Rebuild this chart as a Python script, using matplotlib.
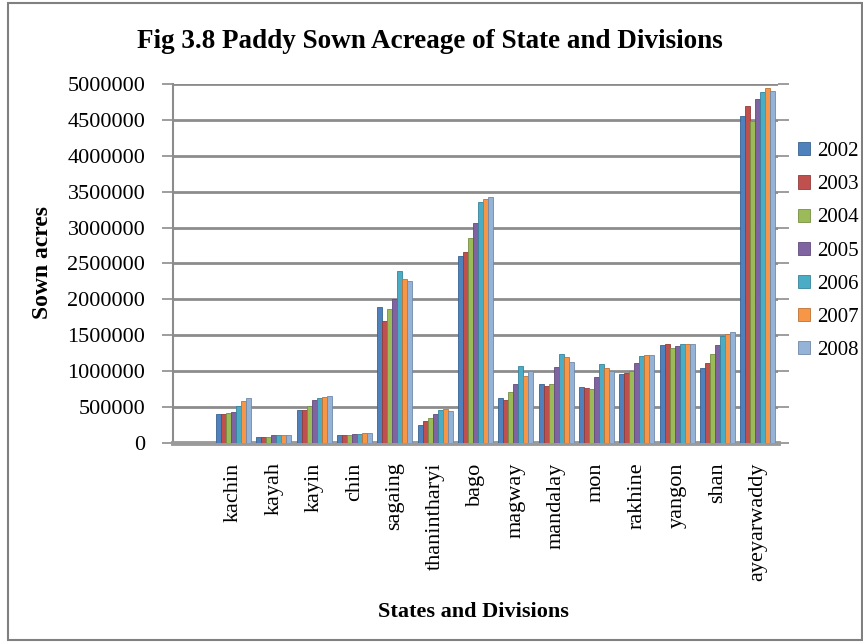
"""Fig 3.8 paddy sown acreage of states and divisions, 2002-2008."""

import matplotlib

matplotlib.use("Agg")
import matplotlib.pyplot as plt
import numpy as np
from matplotlib.patches import Rectangle


CATEGORIES = [
    "kachin", "kayah", "kayin", "chin", "sagaing", "thanintharyi", "bago",
    "magway", "mandalay", "mon", "rakhine", "yangon", "shan", "ayeyarwaddy",
]
YEARS = ["2002", "2003", "2004", "2005", "2006", "2007", "2008"]

# one list per state/division, values for 2002..2008 (acres)
kachin = [410000, 410000, 415000, 430000, 520000, 590000, 620000]
kayah = [80000, 80000, 85000, 105000, 110000, 110000, 110000]
kayin = [455000, 460000, 515000, 595000, 625000, 635000, 655000]
chin = [110000, 115000, 115000, 120000, 125000, 135000, 140000]
sagaing = [1890000, 1700000, 1865000, 2005000, 2395000, 2285000, 2255000]
thanintharyi = [255000, 300000, 355000, 410000, 455000, 470000, 450000]
bago = [2610000, 2660000, 2850000, 3070000, 3350000, 3395000, 3430000]
magway = [625000, 605000, 710000, 820000, 1075000, 935000, 1005000]
mandalay = [820000, 790000, 815000, 1065000, 1235000, 1200000, 1135000]
mon = [775000, 765000, 755000, 925000, 1100000, 1050000, 1005000]
rakhine = [960000, 975000, 1005000, 1110000, 1210000, 1225000, 1225000]
yangon = [1360000, 1385000, 1325000, 1350000, 1375000, 1385000, 1375000]
shan = [1040000, 1110000, 1235000, 1370000, 1490000, 1520000, 1545000]
ayeyarwaddy = [4560000, 4700000, 4485000, 4790000, 4885000, 4940000, 4900000]

ROWS = [kachin, kayah, kayin, chin, sagaing, thanintharyi, bago,
        magway, mandalay, mon, rakhine, yangon, shan, ayeyarwaddy]

COLORS = ["#4F81BD", "#C0504D", "#9BBB59", "#8064A2", "#4BACC6", "#F79646", "#95B3D7"]
EDGES = ["#3A6390", "#933B39", "#768F44", "#614C7C", "#39839A", "#BD7235", "#7189A8"]

plt.rcParams.update({"font.family": ["Liberation Serif", "DejaVu Serif"]})

fig = plt.figure(figsize=(8.63, 6.44), dpi=100)
ax = fig.add_axes([0.2005, 0.3121, 0.7010, 0.5575])

values = np.array(ROWS)  # shape (14 categories, 7 years)
x = np.arange(1, len(CATEGORIES) + 1)
n = len(YEARS)
bar_w = 0.87 / n
for j, year in enumerate(YEARS):
    offs = (j - (n - 1) / 2) * bar_w
    ax.bar(x + offs, values[:, j], width=bar_w, color=COLORS[j], edgecolor=EDGES[j],
           linewidth=0.6, label=year, zorder=3)

ax.set_xlim(-0.5, len(CATEGORIES) + 0.5)
ax.set_ylim(0, 5000000)
ax.set_yticks(np.arange(0, 5000001, 500000))
ax.set_yticklabels([str(v) for v in range(0, 5000001, 500000)], fontsize=16)
ax.yaxis.grid(True, color="#8C8C8C", linewidth=2.0, zorder=0)
ax.tick_params(axis="y", which="both", direction="out", length=8, width=1.2, color="#8C8C8C",
               right=True, pad=12)
ax.set_xticks(x)
ax.set_xticklabels(CATEGORIES, rotation=90, fontsize=16, va="top")
ax.tick_params(axis="x", length=0, pad=14)

for side in ["top", "right"]:
    ax.spines[side].set_visible(False)
ax.spines["left"].set_color("#8C8C8C")
ax.spines["left"].set_linewidth(1.5)
ax.spines["bottom"].set_color("#9A9A9A")
ax.spines["bottom"].set_linewidth(3.5)

fig.text(0.049, 0.593, "Sown acres", rotation=90, ha="center", va="center",
         fontsize=17, fontweight="bold")
fig.text(0.549, 0.0497, "States and Divisions", ha="center", va="center",
         fontsize=16, fontweight="bold")
fig.text(0.498, 0.935, "Fig 3.8 Paddy Sown Acreage of State and Divisions",
         ha="center", va="center", fontsize=19.5, fontweight="bold")

ax.legend(loc="center left", bbox_to_anchor=(0.915, 0.61), bbox_transform=fig.transFigure,
          frameon=False, fontsize=15, handlelength=0.6, handleheight=0.6,
          handletextpad=0.3, labelspacing=0.68, borderaxespad=0)

fig.patches.append(Rectangle((0.009, 0.006), 0.99, 0.99, transform=fig.transFigure,
                             fill=False, edgecolor="#808080", linewidth=1.5))

fig.savefig("out.png", dpi=100)
